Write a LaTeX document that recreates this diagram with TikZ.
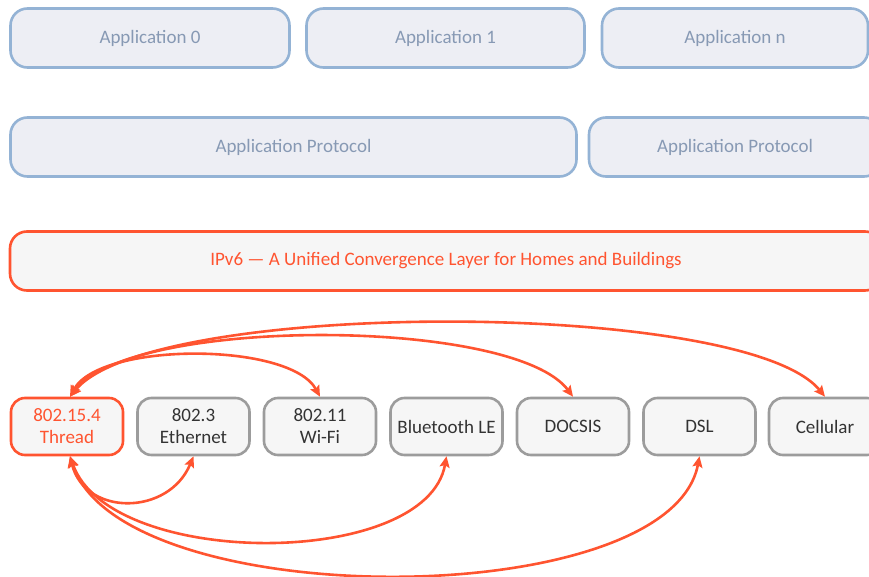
\documentclass[tikz,border=0pt]{standalone}
\usepackage{fontspec}
\setmainfont{Carlito}
\usetikzlibrary{arrows.meta}
\definecolor{appfill}{HTML}{EDEEF4}
\definecolor{appline}{HTML}{94B3D5}
\definecolor{apptext}{HTML}{8799B4}
\definecolor{accent}{HTML}{FF5430}
\definecolor{boxfill}{HTML}{F6F6F6}
\definecolor{boxline}{HTML}{9C9C9C}
\definecolor{boxtext}{HTML}{333333}
\tikzset{
  appbox/.style={draw=appline, fill=appfill, line width=2.6pt, rounded corners=17pt,
    text=apptext, inner sep=0pt, font=\fontsize{19}{22}\selectfont},
  ipbox/.style={draw=accent, fill=boxfill, line width=2.6pt, rounded corners=17pt,
    text=accent, inner sep=0pt, font=\fontsize{19}{22}\selectfont},
  linkbox/.style={draw=boxline, fill=boxfill, line width=2.6pt, rounded corners=14pt,
    text=boxtext, inner sep=0pt, align=center, minimum width=112pt, minimum height=57pt,
    font=\fontsize{19}{22}\selectfont},
  threadbox/.style={linkbox, draw=accent, text=accent},
  link/.style={draw=accent, line width=2.6pt, {Stealth[length=11pt,width=10pt,inset=2pt]}-{Stealth[length=11pt,width=10pt,inset=2pt]}}
}
\begin{document}
\begin{tikzpicture}[x=1pt,y=-1pt]
\useasboundingbox (0,0) rectangle (869,577);
\clip (0,0) rectangle (869,577);
% application row
\node[appbox, minimum width=279pt, minimum height=59pt] (a0) at (150,38) {Application 0};
\node[appbox, minimum width=278pt, minimum height=59pt] (a1) at (445.5,38) {Application 1};
\node[appbox, minimum width=266pt, minimum height=59pt] (an) at (735,38) {Application n};
% protocol row
\node[appbox, minimum width=566pt, minimum height=59pt] (p1) at (293.5,147) {Application Protocol};
\node[appbox, minimum width=292pt, minimum height=59pt] (p2) at (735,147) {Application Protocol};
% IPv6
\node[ipbox, minimum width=872pt, minimum height=59pt] (ip) at (446,261) {IPv6 — A Unified Convergence Layer for Homes and Buildings};
% link layers
\node[threadbox] (thr) at (67,426.5) {802.15.4\\Thread};
\node[linkbox] (eth) at (193.5,426.5) {802.3\\Ethernet};
\node[linkbox] (wifi) at (320,426.5) {802.11\\Wi-Fi};
\node[linkbox] (ble) at (446.5,426.5) {Bluetooth LE};
\node[linkbox] (doc) at (573,426.5) {DOCSIS};
\node[linkbox] (dsl) at (699.5,426.5) {DSL};
\node[linkbox] (cell) at (825,426.5) {Cellular};
% arcs above
\draw[link] ([xshift=3pt]thr.north) .. controls +(30,-55) and +(-30,-55) .. (wifi.north);
\draw[link] ([xshift=3pt]thr.north) .. controls +(60,-80) and +(-60,-80) .. (doc.north);
\draw[link] ([xshift=3pt]thr.north) .. controls +(80,-98) and +(-80,-98) .. (cell.north);
% arcs below
\draw[link] ([xshift=3pt]thr.south) .. controls +(15,60) and +(-25,60) .. (eth.south);
\draw[link] ([xshift=3pt]thr.south) .. controls +(40,113) and +(-20,113) .. (ble.south);
\draw[link] ([xshift=3pt]thr.south) .. controls +(50,158) and +(-30,158) .. (dsl.south);
\end{tikzpicture}
\end{document}
